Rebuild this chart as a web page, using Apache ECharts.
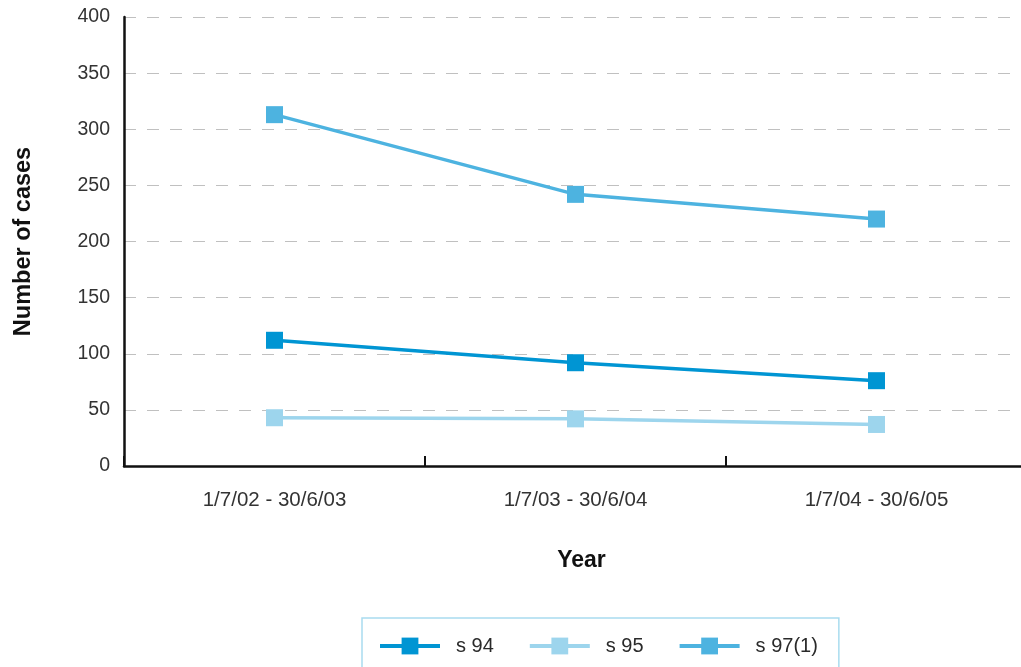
<!DOCTYPE html>
<html>
<head>
<meta charset="utf-8">
<script src="https://cdn.jsdelivr.net/npm/echarts@6/dist/echarts.min.js"></script>
<style>
  html, body { margin: 0; padding: 0; background: #fff; overflow: hidden; }
  /* plot runs slightly past the right edge of the window */
  #chart { width: 1027px; height: 667px; }
</style>
</head>
<body>
<div id="chart"></div>
<script>
// Reporting periods
const years = ['1/7/02 - 30/6/03', '1/7/03 - 30/6/04', '1/7/04 - 30/6/05'];
// Number of cases per section
const s94 = [112, 92, 76];
const s95 = [43, 42, 37];
const s97 = [313, 242, 220];
const yTicks = [0, 50, 100, 150, 200, 250, 300, 350, 400];

const FONT = 'Liberation Sans, Helvetica, Arial, sans-serif';

function lineSeries(name, data, color) {
  return {
    name: name,
    type: 'line',
    data: data,
    symbol: 'rect',
    symbolSize: 17,
    lineStyle: { color: color, width: 3.5 },
    itemStyle: { color: color },
    emphasis: { disabled: true },
    animation: false
  };
}

const chart = echarts.init(document.getElementById('chart'));
chart.setOption({
  animation: false,
  grid: { left: 124, top: 17, right: 0, bottom: 201 },
  legend: {
    left: 362,
    top: 618,
    padding: [18, 21, 30, 16],
    borderColor: '#a9dcef',
    borderWidth: 1.5,
    itemWidth: 60,
    itemHeight: 21,
    itemGap: 34,
    lineStyle: { width: 4 },
    textStyle: { fontFamily: FONT, fontSize: 20, color: '#2a2a2a', padding: [0, 0, 0, 11] },
    data: ['s 94', 's 95', 's 97(1)']
  },
  xAxis: {
    type: 'category',
    data: years,
    boundaryGap: true,
    name: 'Year',
    nameLocation: 'middle',
    nameGap: 83,
    nameTextStyle: { fontFamily: FONT, fontSize: 23, fontWeight: 'bold', color: '#111', padding: [0, 0, 0, 12] },
    axisLine: { lineStyle: { color: '#111', width: 2.5 } },
    axisTick: { show: true, inside: true, length: 10, lineStyle: { color: '#111', width: 2 } },
    axisLabel: { fontFamily: FONT, fontSize: 20.5, color: '#333', margin: 24 },
    splitLine: { show: false }
  },
  yAxis: {
    type: 'value',
    min: yTicks[0],
    max: yTicks[yTicks.length - 1],
    interval: 50,
    name: 'Number of cases',
    nameLocation: 'middle',
    nameGap: 88,
    nameTextStyle: { fontFamily: FONT, fontSize: 23.5, fontWeight: 'bold', color: '#111' },
    axisLine: { show: true, lineStyle: { color: '#111', width: 2.5 } },
    axisTick: { show: false },
    axisLabel: { fontFamily: FONT, fontSize: 19.5, color: '#333', margin: 14 },
    splitLine: { show: true, lineStyle: { color: '#c0c0c0', width: 1.2, type: [12, 11] } }
  },
  series: [
    lineSeries('s 94', s94, '#0095d3'),
    lineSeries('s 95', s95, '#9dd5ed'),
    lineSeries('s 97(1)', s97, '#4db3e0')
  ]
});
</script>
</body>
</html>
